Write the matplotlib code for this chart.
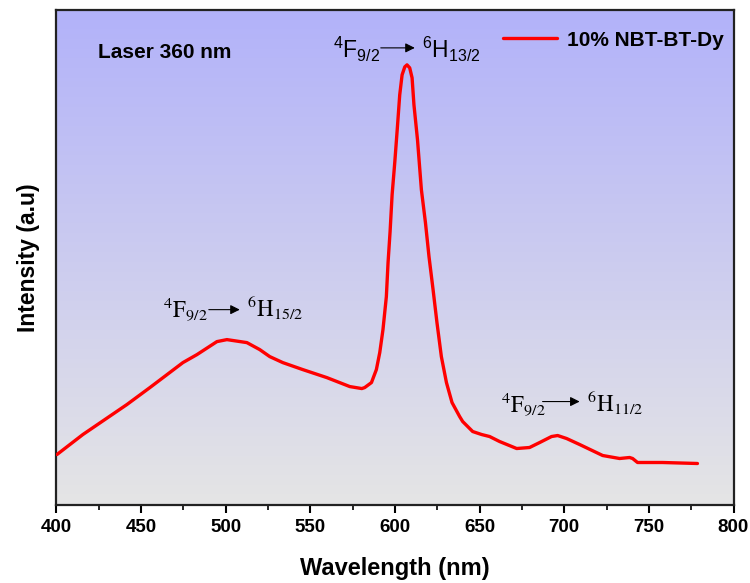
import numpy as np
import matplotlib
matplotlib.use("Agg")
import matplotlib.pyplot as plt
from matplotlib.ticker import MultipleLocator

# ---- data ----
wavelength = [400.3, 415.6, 441.6, 455.2, 474.7, 483.0, 494.8, 500.7, 512.5, 520.1,
              526.0, 533.7, 545.5, 559.7, 573.3, 580.4, 582.1, 586.1, 589.0, 591.0,
              592.9, 594.9, 595.9, 597.1, 598.3, 599.9, 601.4, 602.8, 604.2, 605.8,
              607.1, 608.7, 610.1, 611.2, 613.3, 615.6, 618.0, 620.1, 622.5, 624.8,
              627.4, 630.4, 633.7, 638.2, 640.0, 645.9, 651.2, 655.9, 661.8, 671.9,
              679.5, 685.5, 692.5, 696.1, 701.4, 709.1, 722.7, 732.7, 738.6, 740.4,
              743.3, 758.1, 778.7]
intensity = [51, 71, 101, 118, 143, 151, 164, 166, 163, 156,
             149, 143, 136, 128, 119, 117, 118, 123, 136, 153,
             176, 209, 243, 274, 311, 344, 378, 411, 431, 439,
             441, 438, 428, 401, 366, 316, 283, 249, 216, 183,
             149, 123, 103, 89, 84, 74, 71, 69, 64, 57,
             58, 63, 69, 70, 67, 61, 50, 47, 48, 47,
             43, 43, 42]
series_label = "10% NBT-BT-Dy"
x_ticks = [400, 450, 500, 550, 600, 650, 700, 750, 800]

plt.rcParams['font.family'] = ['Liberation Sans', 'DejaVu Sans']
plt.rcParams['mathtext.fontset'] = 'custom'
plt.rcParams['mathtext.rm'] = 'Liberation Sans'

fig = plt.figure(figsize=(7.5, 5.83), dpi=100)
ax = fig.add_axes([0.0753, 0.133, 0.9027, 0.850])

# gradient background
top = np.array([178, 178, 250]) / 255.0
bot = np.array([229, 229, 229]) / 255.0
t = np.linspace(0, 1, 256)[:, None]
grad = (top[None, :] * (1 - t) + bot[None, :] * t)[:, None, :]
ax.imshow(grad, extent=[0, 1, 0, 1], transform=ax.transAxes, aspect='auto', zorder=0)

ax.plot(wavelength, intensity, color='#ff0000', lw=2.4, label=series_label, zorder=3,
        solid_joinstyle='round', solid_capstyle='round')

ax.set_xlim(400, 800)
ax.set_ylim(0, 496)
ax.set_xticks(x_ticks)
ax.xaxis.set_minor_locator(MultipleLocator(25))
ax.set_yticks([])
ax.tick_params(axis='x', which='major', direction='out', length=6, width=1.5,
               labelsize=13.5, pad=4)
ax.tick_params(axis='x', which='minor', direction='out', length=3.5, width=1.2)
for lab in ax.get_xticklabels():
    lab.set_fontweight('bold')
for s in ax.spines.values():
    s.set_linewidth(1.6)
    s.set_color('#222222')

ax.set_xlabel("Wavelength (nm)", fontsize=17, fontweight='bold', labelpad=15)
ax.set_ylabel("Intensity (a.u)", fontsize=16.5, fontweight='bold', labelpad=12)

ax.text(0.061, 0.903, "Laser 360 nm", transform=ax.transAxes, fontsize=15,
        fontweight='bold', ha='left', va='baseline')

leg = ax.legend(loc='upper right', bbox_to_anchor=(0.985, 0.958), frameon=False,
                fontsize=15, handlelength=2.6, handletextpad=0.45, borderpad=0,
                borderaxespad=0)
for txt in leg.get_texts():
    txt.set_fontweight('bold')

arrow_kw = dict(arrowstyle='-|>', color='black', lw=0.8, mutation_scale=14,
                shrinkA=0, shrinkB=0)

# top annotation (sans)
sans = dict(fontsize=16.5, family='Liberation Sans')
ax.text(563.4, 448, r'$\mathregular{^{4}F_{9/2}}$', ha='left', va='baseline', **sans)
ax.annotate('', xy=(611.7, 458), xytext=(591.6, 458), arrowprops=arrow_kw)
ax.text(615.8, 448, r'$\mathregular{^{6}H_{13/2}}$', ha='left', va='baseline', **sans)

# serif annotations
serif = dict(fontsize=16.5, family='Liberation Serif', math_fontfamily='stix')
ax.text(462.9, 189, r'$\mathrm{^{4}F_{9/2}}$', ha='left', va='baseline', **serif)
ax.annotate('', xy=(508.3, 196), xytext=(490.0, 196), arrowprops=arrow_kw)
ax.text(512.6, 189, r'$\mathrm{^{6}H_{15/2}}$', ha='left', va='baseline', **serif)

ax.text(662.4, 94, r'$\mathrm{^{4}F_{9/2}}$', ha='left', va='baseline', **serif)
ax.annotate('', xy=(709.1, 104), xytext=(687.2, 104), arrowprops=arrow_kw)
ax.text(713.2, 94, r'$\mathrm{^{6}H_{11/2}}$', ha='left', va='baseline', **serif)

fig.savefig("out.png", dpi=100)
